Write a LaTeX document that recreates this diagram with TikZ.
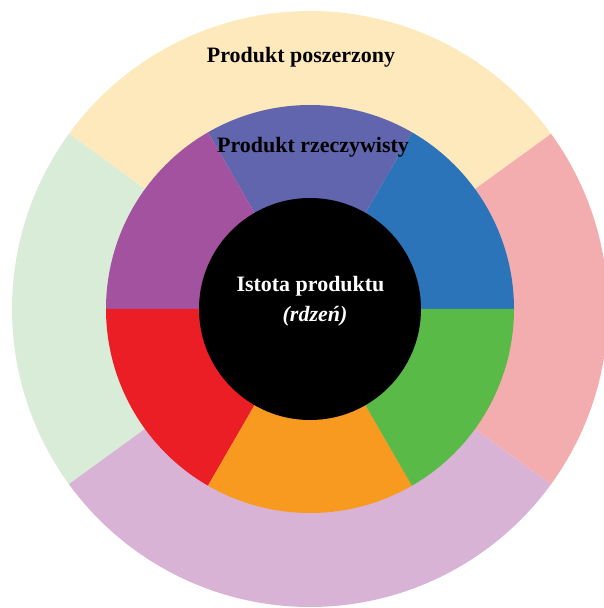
\documentclass[tikz,border=0pt]{standalone}
\usepackage{fontspec}
\setmainfont{Liberation Serif}
\usetikzlibrary{positioning}
\definecolor{cream}{RGB}{254,233,188}
\definecolor{rose}{RGB}{244,173,174}
\definecolor{lilac}{RGB}{217,179,214}
\definecolor{mint}{RGB}{217,236,215}
\definecolor{cobalt}{RGB}{43,116,186}
\definecolor{slate}{RGB}{96,101,173}
\definecolor{plum}{RGB}{163,82,160}
\definecolor{scarlet}{RGB}{236,30,37}
\definecolor{amber}{RGB}{247,154,31}
\definecolor{leaf}{RGB}{90,186,72}

\begin{document}
\begin{tikzpicture}
        \useasboundingbox (-6.2,-5.98) rectangle (5.86,6.18);
        % outer ring: produkt poszerzony
        \fill[cream] (0,0) -- (36:5.96) arc[start angle=36,end angle=144,radius=5.96] -- cycle;
        \fill[mint] (0,0) -- (144:5.96) arc[start angle=144,end angle=216,radius=5.96] -- cycle;
        \fill[lilac] (0,0) -- (216:5.96) arc[start angle=216,end angle=324,radius=5.96] -- cycle;
        \fill[rose] (0,0) -- (-36:5.96) arc[start angle=-36,end angle=36,radius=5.96] -- cycle;
        % middle ring: produkt rzeczywisty
        \fill[cobalt] (0,0) -- (0:4.08) arc[start angle=0,end angle=60,radius=4.08] -- cycle;
        \fill[slate] (0,0) -- (60:4.08) arc[start angle=60,end angle=120,radius=4.08] -- cycle;
        \fill[plum] (0,0) -- (120:4.08) arc[start angle=120,end angle=180,radius=4.08] -- cycle;
        \fill[scarlet] (0,0) -- (180:4.08) arc[start angle=180,end angle=240,radius=4.08] -- cycle;
        \fill[amber] (0,0) -- (240:4.08) arc[start angle=240,end angle=300,radius=4.08] -- cycle;
        \fill[leaf] (0,0) -- (300:4.08) arc[start angle=300,end angle=360,radius=4.08] -- cycle;
        % core
        \fill[black] (0,0) circle (2.22);
        \node[font=\fontsize{12.5}{15}\selectfont\bfseries,anchor=base] (extended) at (-0.18,4.92) {Produkt poszerzony};
        \node[font=\fontsize{12.5}{15}\selectfont\bfseries,anchor=base] (actual) at (0.06,3.12) {Produkt rzeczywisty};
        \node[font=\fontsize{12.5}{15}\selectfont\bfseries,text=white,anchor=base] (core) at (0.01,0.34) {Istota produktu};
        \node[font=\fontsize{12.5}{15}\selectfont\bfseries\itshape,text=white,anchor=base] (corenote) at (0.1,-0.26) {(rdzeń)};
      \end{tikzpicture}
\end{document}
